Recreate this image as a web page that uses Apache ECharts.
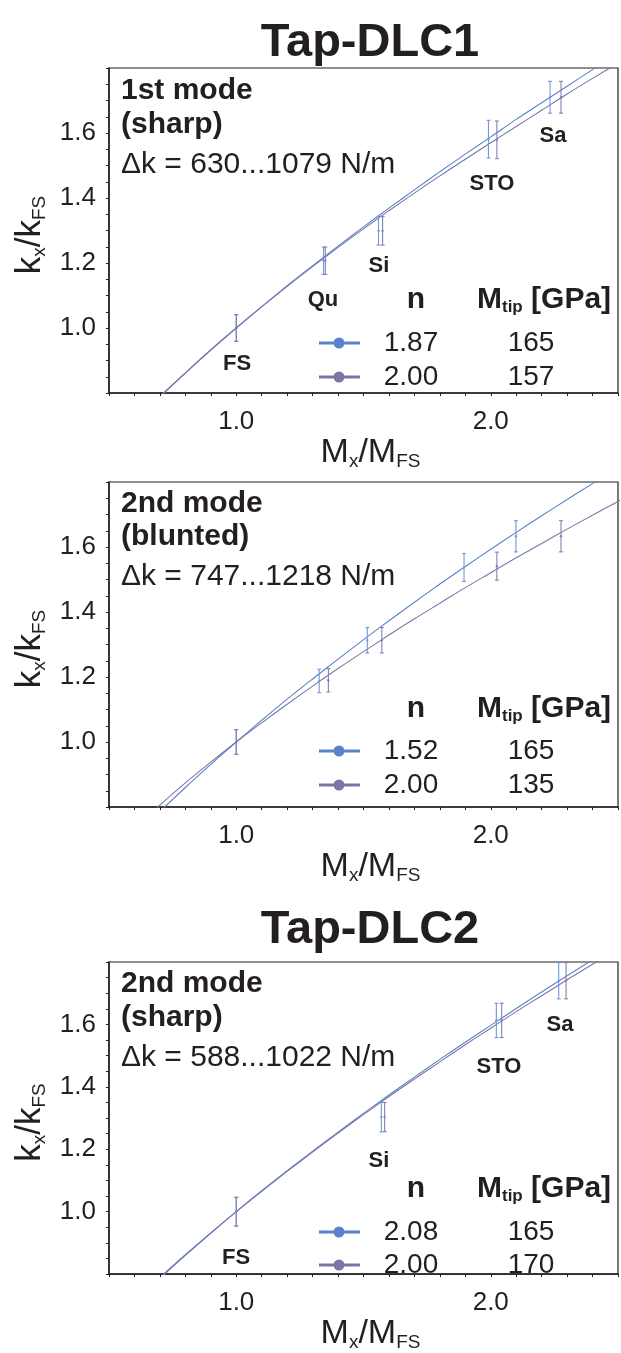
<!DOCTYPE html>
<html>
<head>
<meta charset="utf-8">
<script src="https://cdn.jsdelivr.net/npm/echarts@6/dist/echarts.min.js"></script>
<style>
  html, body { margin: 0; padding: 0; background: #fff; }
  #chart { width: 621px; height: 1353px; }
</style>
</head>
<body>
<div id="chart"></div>
<script>
const curveX = [0.6, 0.7, 0.8, 0.9, 1.0, 1.1, 1.2, 1.3, 1.4, 1.5, 1.6, 1.7, 1.8, 1.9, 2.0, 2.1, 2.2, 2.3, 2.4, 2.5, 2.6];

// Tap-DLC1, 1st mode (sharp)
const p1CurveBlue   = [0.710, 0.788, 0.861, 0.932, 1.0, 1.066, 1.130, 1.192, 1.252, 1.311, 1.369, 1.425, 1.481, 1.535, 1.588, 1.642, 1.693, 1.744, 1.795, 1.845, 1.894];
const p1CurvePurple = [0.711, 0.789, 0.862, 0.933, 1.0, 1.065, 1.128, 1.189, 1.248, 1.305, 1.361, 1.415, 1.468, 1.519, 1.570, 1.620, 1.670, 1.720, 1.768, 1.815, 1.862];
const p1BlueX   = [1.0, 1.343, 1.559, 1.991, 2.233];
const p1PurpleX = [1.0, 1.350, 1.575, 2.024, 2.276];
const p1BlueY   = [1.0, 1.207, 1.299, 1.581, 1.710];
const p1PurpleY = [1.0, 1.207, 1.299, 1.579, 1.710];
const p1Err     = [0.041, 0.042, 0.044, 0.058, 0.049];

// Tap-DLC1, 2nd mode (blunted)
const p2CurveBlue   = [0.708, 0.786, 0.860, 0.931, 1.0, 1.067, 1.132, 1.194, 1.255, 1.315, 1.373, 1.430, 1.486, 1.540, 1.593, 1.645, 1.696, 1.746, 1.795, 1.845, 1.893];
const p2CurvePurple = [0.734, 0.806, 0.874, 0.938, 1.0, 1.059, 1.116, 1.172, 1.226, 1.278, 1.329, 1.379, 1.427, 1.475, 1.521, 1.567, 1.611, 1.655, 1.698, 1.740, 1.782];
const p2BlueX   = [1.0, 1.326, 1.515, 1.895, 2.099];
const p2PurpleX = [1.0, 1.362, 1.572, 2.024, 2.276];
const p2BlueY   = [1.0, 1.188, 1.313, 1.537, 1.633];
const p2PurpleY = [1.0, 1.190, 1.313, 1.541, 1.633];
const p2Err     = [0.038, 0.036, 0.039, 0.043, 0.048];

// Tap-DLC2, 2nd mode (sharp)
const p3CurveBlue   = [0.708, 0.786, 0.860, 0.931, 1.0, 1.067, 1.131, 1.194, 1.255, 1.315, 1.374, 1.431, 1.488, 1.543, 1.597, 1.651, 1.704, 1.756, 1.807, 1.858, 1.908];
const p3CurvePurple = [0.711, 0.789, 0.862, 0.932, 1.0, 1.065, 1.129, 1.191, 1.252, 1.311, 1.369, 1.425, 1.480, 1.535, 1.588, 1.641, 1.692, 1.743, 1.793, 1.842, 1.891];
const p3BlueX   = [1.0, 1.570, 2.022, 2.267];
const p3PurpleX = [1.0, 1.583, 2.043, 2.296];
const p3BlueY   = [1.0, 1.303, 1.613, 1.740];
const p3PurpleY = [1.0, 1.303, 1.613, 1.740];
const p3Err     = [0.046, 0.047, 0.055, 0.058];

// tick labels
const xTickLabels = [1.0, 2.0];
const yTickLabels = [1.0, 1.2, 1.4, 1.6];

// texts
const titles = ['Tap-DLC1', 'Tap-DLC2'];
const modeNames = [['1st mode', '(sharp)'], ['2nd mode', '(blunted)'], ['2nd mode', '(sharp)']];
const deltaK = ['\u0394k = 630...1079 N/m', '\u0394k = 747...1218 N/m', '\u0394k = 588...1022 N/m'];
const nValues = [['1.87', '2.00'], ['1.52', '2.00'], ['2.08', '2.00']];
const mTipValues = [['165', '157'], ['165', '135'], ['165', '170']];
const p1Materials = ['FS', 'Qu', 'Si', 'STO', 'Sa'];
const p3Materials = ['FS', 'Si', 'STO', 'Sa'];

const BLUE = '#5a82cc';
const PURPLE = '#7a76a8';
const BLUE_BAR = '#7397dc';
const PURPLE_BAR = '#8581b0';
const INK = '#231f20';
const FONT = '"Liberation Sans", Arial, Helvetica, sans-serif';

// layout of the three panels
const layout = [
  { top: 68, height: 325, mode: [91, 125, 165], legend: [300, 343, 377] },
  { top: 482, height: 325, mode: [504, 537, 577], legend: [709, 751, 785] },
  { top: 962, height: 324, mode: [984, 1018, 1058], legend: [1189, 1232, 1265] }
];
const panelData = [
  { cb: p1CurveBlue, cp: p1CurvePurple, bx: p1BlueX, by: p1BlueY, px: p1PurpleX, py: p1PurpleY, err: p1Err },
  { cb: p2CurveBlue, cp: p2CurvePurple, bx: p2BlueX, by: p2BlueY, px: p2PurpleX, py: p2PurpleY, err: p2Err },
  { cb: p3CurveBlue, cp: p3CurvePurple, bx: p3BlueX, by: p3BlueY, px: p3PurpleX, py: p3PurpleY, err: p3Err }
];

const near = (v, list) => list.some(t => Math.abs(v - t) < 1e-6);

const grids = [], xAxes = [], yAxes = [], series = [];

layout.forEach((L, i) => {
  grids.push({
    left: 109, right: -2, top: L.top, height: L.height,
    show: true, borderColor: INK, borderWidth: 1.2, backgroundColor: 'transparent'
  });
  xAxes.push({
    gridIndex: i, type: 'value', min: 0.5, max: 2.5, interval: 0.1,
    name: '{a|M}{s|x}{a|/M}{s|FS}', nameLocation: 'middle', nameGap: 28,
    nameTextStyle: {
      padding: [0, 0, 0, 14],
      rich: {
        a: { fontSize: 34, fontFamily: FONT, color: INK, lineHeight: 36 },
        s: { fontSize: 19, fontFamily: FONT, color: INK, lineHeight: 16, verticalAlign: 'bottom' }
      }
    },
    axisLine: { lineStyle: { color: INK, width: 1.5 } },
    axisTick: { length: 3, lineStyle: { color: INK, width: 1 } },
    axisLabel: {
      margin: 16, fontSize: 26, fontFamily: FONT, color: INK,
      formatter: v => near(v, xTickLabels) ? v.toFixed(1) : ''
    },
    splitLine: { show: false }
  });
  yAxes.push({
    gridIndex: i, type: 'value', min: 0.8, max: 1.8, interval: 0.05,
    name: '{a|k}{s|x}{a|/k}{s|FS}', nameLocation: 'middle', nameGap: 59,
    nameTextStyle: {
      padding: [0, 9, 0, 0],
      rich: {
        a: { fontSize: 35, fontFamily: FONT, color: INK, lineHeight: 38 },
        s: { fontSize: 19, fontFamily: FONT, color: INK, lineHeight: 18, verticalAlign: 'bottom' }
      }
    },
    axisLine: { lineStyle: { color: INK, width: 1.5 } },
    axisTick: { length: 3, lineStyle: { color: INK, width: 1 } },
    axisLabel: {
      margin: 13, fontSize: 26, fontFamily: FONT, color: INK,
      formatter: v => near(v, yTickLabels) ? v.toFixed(1) : ''
    },
    splitLine: { show: false }
  });

  const D = panelData[i];
  const curve = (ys, color) => ({
    type: 'line', xAxisIndex: i, yAxisIndex: i, smooth: 0.3, showSymbol: false,
    clip: true, silent: true, z: 3,
    lineStyle: { color: color, width: 1.1 },
    data: curveX.map((x, k) => [x, ys[k]])
  });
  const bars = (xs, ys, color) => ({
    type: 'custom', xAxisIndex: i, yAxisIndex: i, z: 4, silent: true,
    data: xs.map((x, k) => [x, ys[k], D.err[k]]),
    renderItem: (params, api) => {
      const x = api.value(0), y = api.value(1), e = api.value(2);
      const t = api.coord([x, y + e]), b = api.coord([x, y - e]), m = api.coord([x, y]);
      const st = { stroke: color, lineWidth: 1.1 };
      return {
        type: 'group',
        children: [
          { type: 'line', shape: { x1: t[0], y1: t[1], x2: b[0], y2: b[1] }, style: st },
          { type: 'line', shape: { x1: t[0] - 2, y1: t[1], x2: t[0] + 2, y2: t[1] }, style: st },
          { type: 'line', shape: { x1: b[0] - 2, y1: b[1], x2: b[0] + 2, y2: b[1] }, style: st },
          { type: 'circle', shape: { cx: m[0], cy: m[1], r: 1.2 }, style: { fill: color } }
        ]
      };
    }
  });
  series.push(curve(D.cb, BLUE), curve(D.cp, PURPLE), bars(D.bx, D.by, BLUE_BAR), bars(D.px, D.py, PURPLE_BAR));
});

// texts drawn as graphics
const graphic = [];
const txt = (x, y, text, font, align) => ({
  type: 'text', x: x, y: y, silent: true,
  style: { text: text, font: font, fill: INK, align: align || 'left', verticalAlign: 'middle' }
});

graphic.push(txt(370, 43, titles[0], 'bold 47px ' + FONT, 'center'));
graphic.push(txt(370, 930, titles[1], 'bold 47px ' + FONT, 'center'));

layout.forEach((L, i) => {
  graphic.push(txt(121, L.mode[0], modeNames[i][0], 'bold 30px ' + FONT));
  graphic.push(txt(121, L.mode[1], modeNames[i][1], 'bold 30px ' + FONT));
  graphic.push(txt(121, L.mode[2], deltaK[i], '30px ' + FONT));

  // legend table
  graphic.push(txt(416, L.legend[0], 'n', 'bold 30px ' + FONT, 'center'));
  graphic.push({
    type: 'text', x: 477, y: L.legend[0], silent: true,
    style: {
      text: '{b|M}{s|tip}{b| [GPa]}', align: 'left', verticalAlign: 'middle',
      rich: {
        b: { font: 'bold 30px ' + FONT, fill: INK, lineHeight: 32 },
        s: { font: 'bold 17px ' + FONT, fill: INK, lineHeight: 12, verticalAlign: 'bottom' }
      }
    }
  });
  [BLUE, PURPLE].forEach((c, r) => {
    const y = L.legend[r + 1];
    graphic.push({ type: 'line', silent: true, shape: { x1: 319, y1: y, x2: 360, y2: y }, style: { stroke: c, lineWidth: 3 } });
    graphic.push({ type: 'circle', silent: true, shape: { cx: 339, cy: y, r: 5.5 }, style: { fill: c } });
    graphic.push(txt(411, y, nValues[i][r], '28px ' + FONT, 'center'));
    graphic.push(txt(531, y, mTipValues[i][r], '28px ' + FONT, 'center'));
  });
});

// material labels
const p1LabelPos = [[237, 364], [323, 300], [379, 266], [492, 184], [553, 136]];
const p3LabelPos = [[236, 1258], [379, 1161], [499, 1067], [560, 1025]];
p1Materials.forEach((m, k) => graphic.push(txt(p1LabelPos[k][0], p1LabelPos[k][1], m, 'bold 22px ' + FONT, 'center')));
p3Materials.forEach((m, k) => graphic.push(txt(p3LabelPos[k][0], p3LabelPos[k][1], m, 'bold 22px ' + FONT, 'center')));

const chart = echarts.init(document.getElementById('chart'), null, { renderer: 'canvas' });
chart.setOption({
  animation: false,
  backgroundColor: '#fff',
  grid: grids,
  xAxis: xAxes,
  yAxis: yAxes,
  series: series,
  graphic: graphic
});
</script>
</body>
</html>
